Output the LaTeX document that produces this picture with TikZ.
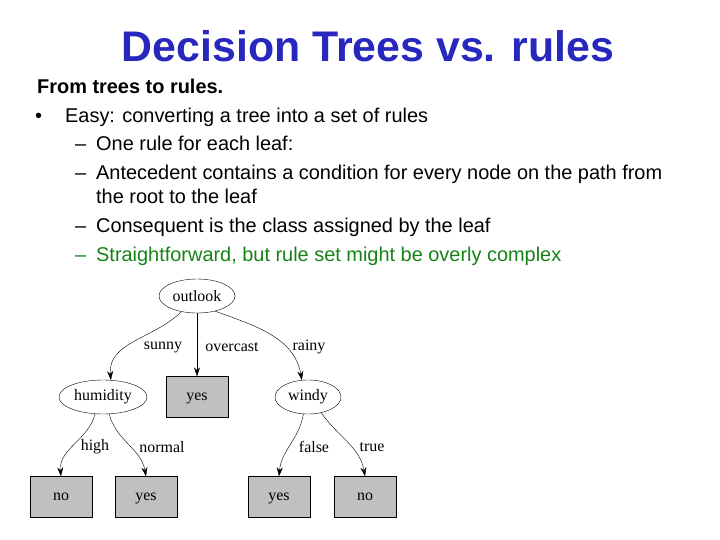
\documentclass[tikz,border=0pt]{standalone}
\usepackage{fontspec}
\setmainfont{Liberation Sans}
\newfontfamily\treefont{Liberation Serif}
\usetikzlibrary{shapes.geometric,arrows.meta}
\definecolor{titleblue}{RGB}{40,40,190}
\definecolor{leafgray}{RGB}{192,192,192}
\definecolor{okgreen}{RGB}{20,130,20}
\tikzset{
  test/.style={draw,ellipse,minimum width=#1,minimum height=34bp,inner sep=0pt,font=\treefont\fontsize{16}{18}\selectfont},
  leaf/.style={draw,fill=leafgray,minimum width=62bp,minimum height=41bp,inner sep=0pt,text depth=0pt,font=\treefont\fontsize{16}{18}\selectfont},
  arr/.style={-{Stealth[length=9bp,width=6bp]},thin},
  lab/.style={font=\treefont\fontsize{16}{18}\selectfont},
  body/.style={anchor=base west,inner sep=0pt,font=\fontsize{20}{22}\selectfont}
}
\begin{document}
\begin{tikzpicture}[x=1bp,y=-1bp]
\useasboundingbox (0,0) rectangle (720,540);
% Title and text
\node[font=\bfseries\fontsize{43}{46}\selectfont,text=titleblue] (title) at (368,46) {Decision Trees vs. rules};
\node[body,font=\bfseries\fontsize{20}{22}\selectfont] (t0) at (37,94) {From trees to rules.};
\node[body] (b1) at (35,123) {\textbullet};
\node[body] (t1) at (65,123) {Easy: converting a tree into a set of rules};
\node[body] (d2) at (75,151) {--};
\node[body] (t2) at (96,151) {One rule for each leaf:};
\node[body] (d3) at (75,180) {--};
\node[body] (t3) at (96,180) {Antecedent contains a condition for every node on the path from};
\node[body] (t3b) at (96,204) {the root to the leaf};
\node[body] (d4) at (75,233) {--};
\node[body] (t4) at (96,233) {Consequent is the class assigned by the leaf};
\node[body,text=okgreen] (d5) at (75,262) {--};
\node[body,text=okgreen] (t5) at (96,262) {Straightforward, but rule set might be overly complex};
% Tree
\node[test=76bp] (outlook) at (197,296) {outlook};
\node[test=88bp] (humidity) at (103,397) {humidity};
\node[leaf] (over) at (197,397) {yes};
\node[test=66bp] (windy) at (308,397) {windy};
\node[leaf] (hno) at (61,497) {no};
\node[leaf] (hyes) at (146,497) {yes};
\node[leaf] (wyes) at (279,497) {yes};
\node[leaf] (wno) at (365,497) {no};
\draw[arr] (outlook.225) to[out=225,in=95] (humidity.65);
\draw[arr] (outlook.south) -- (over.north);
\draw[arr] (outlook.-40) to[out=-20,in=100] (windy.110);
\draw[arr] (humidity.-115) to[out=-105,in=95] (hno.north);
\draw[arr] (humidity.-70) to[out=-75,in=100] (hyes.north);
\draw[arr] (windy.-105) to[out=-100,in=85] (wyes.north);
\draw[arr] (windy.-50) to[out=-55,in=100] (wno.north);
% Edge labels
\node[lab] (lsunny) at (163,347) {sunny};
\node[lab] (lover) at (232,347) {overcast};
\node[lab] (lrainy) at (309,347) {rainy};
\node[lab] (lhigh) at (95,447) {high};
\node[lab] (lnormal) at (162,447) {normal};
\node[lab] (lfalse) at (314,447) {false};
\node[lab] (ltrue) at (372,447) {true};
\end{tikzpicture}
\end{document}
